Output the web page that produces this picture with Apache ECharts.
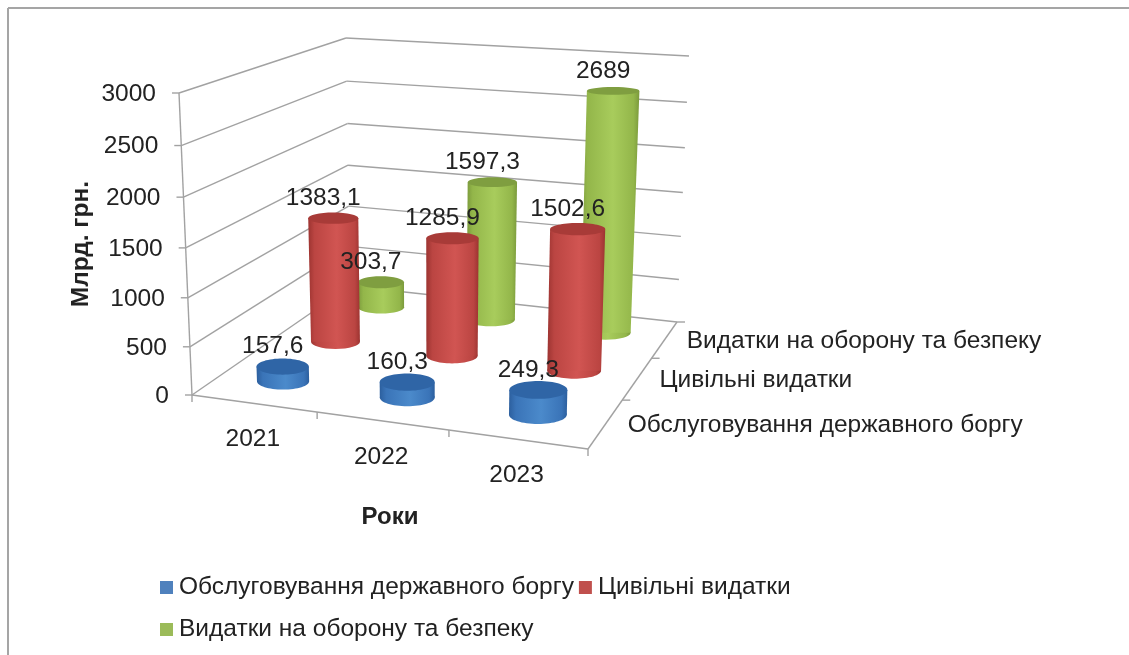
<!DOCTYPE html>
<html>
<head>
<meta charset="utf-8">
<style>
    html, body { margin: 0; padding: 0; background: #fff; }
    #chart { width: 1129px; height: 655px; }
</style>
<script src="https://cdn.jsdelivr.net/npm/echarts@6/dist/echarts.min.js"></script>
</head>
<body>
<div id="chart"></div>
<script>
var years = ['2021', '2022', '2023']
var expenseNames = ['Обслуговування державного боргу', 'Цивільні видатки', 'Видатки на оборону та безпеку']
var debtValues = [157.6, 160.3, 249.3]
var civilValues = [1383.1, 1285.9, 1502.6]
var defenceValues = [303.7, 1597.3, 2689]
var valueTicks = [0, 500, 1000, 1500, 2000, 2500, 3000]

var FONT = '"Liberation Sans", Arial, sans-serif'
var TEXT_COLOR = '#222222'
var LINE_COLOR = '#a2a2a2'

// the grid holds the real scales, the box corners turn grid positions into the 3d view
var GRID = { left: 192, top: 93, width: 396, height: 302 }
var FLOOR = [[192, 395], [588, 449], [677, 322], [350, 286]]
var CEILING = [[179, 93], [596, 120], [689, 56], [346, 38]]
var HEIGHT_BEND = 0.053

function makeQuad(p) {
    var dx1 = p[1][0] - p[2][0], dx2 = p[3][0] - p[2][0], sx = p[0][0] - p[1][0] + p[2][0] - p[3][0]
    var dy1 = p[1][1] - p[2][1], dy2 = p[3][1] - p[2][1], sy = p[0][1] - p[1][1] + p[2][1] - p[3][1]
    var den = dx1 * dy2 - dx2 * dy1
    var g = (sx * dy2 - dx2 * sy) / den
    var h = (dx1 * sy - sx * dy1) / den
    var a = p[1][0] - p[0][0] + g * p[1][0], b = p[3][0] - p[0][0] + h * p[3][0]
    var d = p[1][1] - p[0][1] + g * p[1][1], e = p[3][1] - p[0][1] + h * p[3][1]
    return function (u, v) {
        var k = g * u + h * v + 1
        return [(a * u + b * v + p[0][0]) / k, (d * u + e * v + p[0][1]) / k]
    }
}
var floorAt = makeQuad(FLOOR)
var ceilingAt = makeQuad(CEILING)

// u: along the years, v: into the depth, w: height, all 0..1
function project(u, v, w) {
    var f = floorAt(u, v)
    var c = ceilingAt(u, v)
    var t = w / (1 + HEIGHT_BEND * (1 - w))
    return [f[0] + (c[0] - f[0]) * t, f[1] + (c[1] - f[1]) * t]
}
function gridU(api, index) {
    return (api.coord([index, 0])[0] - GRID.left) / GRID.width
}
function gridW(api, value) {
    return (GRID.top + GRID.height - api.coord([0, value])[1]) / GRID.height
}
function depthV(index) {
    return (index + 0.5) / expenseNames.length
}

function line(a, b, width) {
    return {
        type: 'line',
        shape: { x1: a[0], y1: a[1], x2: b[0], y2: b[1] },
        style: { stroke: LINE_COLOR, lineWidth: width || 1.4 }
    }
}
function label(text, x, y, align) {
    return {
        type: 'text',
        style: { text: text, x: x, y: y, align: align || 'center', verticalAlign: 'middle', fill: TEXT_COLOR, font: '24.5px ' + FONT }
    }
}

// walls, floor edges, ticks and their labels
function renderBox(params, api) {
    var kids = []
    valueTicks.forEach(function (val) {
        var w = gridW(api, val)
        var front = project(0, 0, w), back = project(0, 1, w), right = project(1, 1, w)
        kids.push(line(front, back))
        kids.push(line(back, right))
        kids.push(line([front[0] - 7, front[1]], front))
    })
    kids.push(line(project(0, 0, 0), project(0, 0, 1)))
    kids.push(line(project(0, 0, 0), project(1, 0, 0)))
    kids.push(line(project(1, 0, 0), project(1, 1, 0)))
    ;[0, 1, 2, 3].forEach(function (i) {
        var p = project(i / 3, 0, 0)
        kids.push(line(p, [p[0], p[1] + 7]))
    })
    ;[1, 2, 3].forEach(function (i) {
        var p = project(1, i / 3, 0)
        kids.push(line(p, [p[0] + 8, p[1]]))
    })
    valueTicks.forEach(function (val) {
        var p = project(0, 0, gridW(api, val))
        kids.push(label(String(val), p[0] - 23, p[1] + 1, 'right'))
    })
    years.forEach(function (year, i) {
        var p = project(gridU(api, i), 0, 0)
        kids.push(label(year, p[0] - 1, p[1] + 36))
    })
    expenseNames.forEach(function (name, i) {
        var p = project(1, depthV(i), 0)
        kids.push(label(name, p[0] + 22, p[1] + 2, 'left'))
    })
    return { type: 'group', children: kids }
}

function sideFill(c) {
    return new echarts.graphic.LinearGradient(0, 0, 1, 0, [
        { offset: 0, color: c.edge },
        { offset: 0.12, color: c.side },
        { offset: 0.55, color: c.light },
        { offset: 0.9, color: c.side },
        { offset: 1, color: c.edge }
    ])
}

function makeCylinder(depth, c) {
    return function (params, api) {
        var i = api.value(0)
        var u = gridU(api, i), v = depthV(depth), w = gridW(api, api.value(1))
        var base = project(u, v, 0), top = project(u, v, w)
        var step = 1 / years.length
        var rx0 = 0.21 * (project(u + step, v, 0)[0] - base[0])
        var rx1 = 0.21 * (project(u + step, v, w)[0] - top[0])
        var ry0 = 0.21 * Math.abs(project(u, v + step, 0)[1] - base[1])
        var ry1 = 0.21 * Math.abs(project(u, v + step, w)[1] - top[1])
        return {
            type: 'group',
            children: [
                { type: 'ellipse', shape: { cx: base[0], cy: base[1], rx: rx0, ry: ry0 }, style: { fill: sideFill(c) } },
                {
                    type: 'polygon',
                    shape: { points: [[top[0] - rx1, top[1]], [top[0] + rx1, top[1]], [base[0] + rx0, base[1]], [base[0] - rx0, base[1]]] },
                    style: { fill: sideFill(c) }
                },
                { type: 'ellipse', shape: { cx: top[0], cy: top[1], rx: rx1, ry: ry1 }, style: { fill: c.top } }
            ]
        }
    }
}

function renderValueLabel(params, api) {
    var u = gridU(api, api.value(0)), w = gridW(api, api.value(1))
    var p = project(u, depthV(api.value(2)), w)
    return label(String(api.value(1)).replace('.', ','), p[0] - 10, p[1] - 20)
}

var BLUE = { edge: '#2c5f9e', side: '#3a74b8', light: '#4b8acb', top: '#2f65a6' }
var RED = { edge: '#9c3431', side: '#bb4542', light: '#d15552', top: '#a83b38' }
var GREEN = { edge: '#7b9a3c', side: '#93b64a', light: '#a8cc5c', top: '#7f9e40' }

function cylinderSeries(name, values, depth, colors, legendColor) {
    return {
        name: name,
        type: 'custom',
        z: 5 - depth + 1,
        clip: false,
        silent: true,
        itemStyle: { color: legendColor },
        renderItem: makeCylinder(depth, colors),
        data: values.map(function (val, i) { return [i, val] })
    }
}

var labelRows = []
;[debtValues, civilValues, defenceValues].forEach(function (values, depth) {
    values.forEach(function (val, i) { labelRows.push([i, val, depth]) })
})

var myChart = echarts.init(document.getElementById('chart'))
var option = {
    animation: false,
    backgroundColor: '#ffffff',
    grid: GRID,
    xAxis: {
        type: 'category',
        data: years,
        name: 'Роки',
        nameLocation: 'middle',
        nameGap: 110,
        nameTextStyle: { fontFamily: FONT, fontSize: 24, fontWeight: 'bold', color: TEXT_COLOR },
        axisLine: { show: false },
        axisTick: { show: false },
        axisLabel: { show: false }
    },
    yAxis: {
        type: 'value',
        min: 0,
        max: 3000,
        interval: 500,
        name: 'Млрд. грн.',
        nameLocation: 'middle',
        nameGap: 98,
        nameTextStyle: { fontFamily: FONT, fontSize: 24.5, fontWeight: 'bold', color: TEXT_COLOR },
        axisLine: { show: false },
        axisTick: { show: false },
        axisLabel: { show: false },
        splitLine: { show: false }
    },
    legend: {
        left: 160,
        top: 569,
        width: 660,
        data: expenseNames,
        icon: 'rect',
        itemWidth: 13,
        itemHeight: 13,
        itemGap: 5,
        selectedMode: false,
        padding: 0,
        textStyle: { fontFamily: FONT, fontSize: 24.5, color: TEXT_COLOR, lineHeight: 37, padding: [0, 0, 0, 1] }
    },
    graphic: [
        { type: 'line', shape: { x1: 8, y1: 8, x2: 1129, y2: 8 }, style: { stroke: '#a5a5a5', lineWidth: 2 } },
        { type: 'line', shape: { x1: 8, y1: 8, x2: 8, y2: 655 }, style: { stroke: '#a5a5a5', lineWidth: 2 } }
    ],
    series: [
        { type: 'custom', z: 1, clip: false, silent: true, renderItem: renderBox, data: [[0, 0]] },
        cylinderSeries(expenseNames[2], defenceValues, 2, GREEN, '#9bbb59'),
        cylinderSeries(expenseNames[1], civilValues, 1, RED, '#c0504d'),
        cylinderSeries(expenseNames[0], debtValues, 0, BLUE, '#4f81bd'),
        { type: 'custom', z: 9, clip: false, silent: true, renderItem: renderValueLabel, data: labelRows }
    ]
}
myChart.setOption(option)
</script>
</body>
</html>
